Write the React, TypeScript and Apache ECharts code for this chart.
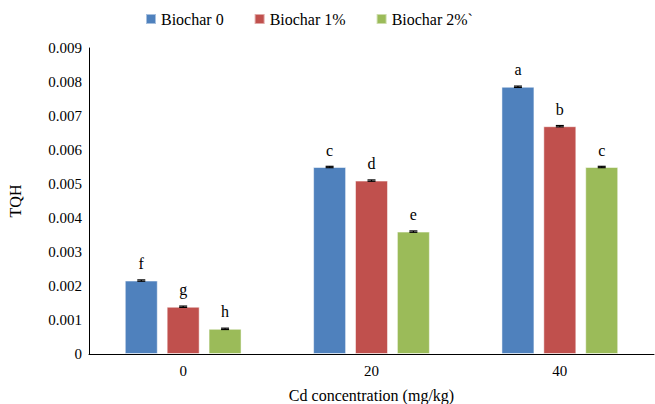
import React, { useEffect, useRef } from "react";
import * as echarts from "echarts";

const categories = ["0", "20", "40"];
const seriesNames = ["Biochar 0", "Biochar 1%", "Biochar 2%`"];
const biochar0 = [0.00216, 0.0055, 0.00786];
const biochar1 = [0.00139, 0.0051, 0.0067];
const biochar2 = [0.00074, 0.0036, 0.0055];
const err0 = [0.00002, 0.00002, 0.00002];
const err1 = [0.00002, 0.00002, 0.00002];
const err2 = [0.00002, 0.00002, 0.00002];
const letters0 = ["f", "c", "a"];
const letters1 = ["g", "d", "b"];
const letters2 = ["h", "e", "c"];
const yTicks = ["0", "0.001", "0.002", "0.003", "0.004", "0.005", "0.006", "0.007", "0.008", "0.009"];

const colors = ["#4F81BD", "#C0504D", "#9BBB59"];
const FONT = "'Liberation Serif', 'Times New Roman', serif";

export default function App() {
  const ref = useRef<HTMLDivElement>(null);
  useEffect(() => {
    const chart = echarts.init(ref.current!, null, { renderer: "svg" });
    const values = [biochar0, biochar1, biochar2];
    const errs = [err0, err1, err2];
    const letters = [letters0, letters1, letters2];
    const barGapFrac = 0.27;
    const catGapFrac = 0.38;
    const barSeries = values.map((vals, i) => ({
      name: seriesNames[i],
      type: "bar",
      data: vals,
      barGap: "27%",
      barCategoryGap: "38%",
      itemStyle: { color: colors[i], borderColor: "rgba(255,255,255,0.5)", borderWidth: 1 },
      label: {
        show: true,
        position: "top",
        distance: 9,
        formatter: (p: any) => letters[i][p.dataIndex],
        fontFamily: FONT,
        fontSize: 16,
        fontWeight: "normal",
        color: "#000",
      },
    }));
    const errSeries = values.map((vals, i) => ({
      name: seriesNames[i],
      type: "custom",
      z: 5,
      data: vals.map((v, j) => [j, v, errs[i][j]]),
      renderItem: (params: any, api: any) => {
        const x = api.value(0);
        const v = api.value(1);
        const e = api.value(2);
        const band = api.size([1, 0])[0];
        const groupW = band * (1 - catGapFrac);
        const bw = groupW / (3 + 2 * barGapFrac);
        const off = (i - 1) * bw * (1 + barGapFrac);
        const top = api.coord([x, v + e]);
        const bot = api.coord([x, v - e]);
        const cx = top[0] + off;
        const hw = 4;
        const style = { stroke: "#000", lineWidth: 1.2 };
        return {
          type: "group",
          children: [
            { type: "line", shape: { x1: cx, y1: top[1], x2: cx, y2: bot[1] }, style },
            { type: "line", shape: { x1: cx - hw, y1: top[1], x2: cx + hw, y2: top[1] }, style },
            { type: "line", shape: { x1: cx - hw, y1: bot[1], x2: cx + hw, y2: bot[1] }, style },
          ],
        };
      },
    }));
    chart.setOption({
      animation: false,
      textStyle: { fontFamily: FONT, fontWeight: "normal" },
      grid: { left: 89, right: 1, top: 48, bottom: 50, outerBoundsMode: "none", containLabel: false },
      legend: {
        data: seriesNames,
        top: 6,
        left: 140,
        itemWidth: 10,
        itemHeight: 10,
        itemGap: 30,
        icon: "rect",
        textStyle: { fontFamily: FONT, fontSize: 16, fontWeight: "normal", color: "#000" },
      },
      xAxis: {
        type: "category",
        data: categories,
        name: "Cd concentration (mg/kg)",
        nameLocation: "middle",
        nameGap: 33,
        nameTextStyle: { fontFamily: FONT, fontSize: 16, fontWeight: "normal", color: "#000" },
        axisLine: { lineStyle: { color: "#000", width: 1 } },
        axisTick: { show: false },
        axisLabel: { fontFamily: FONT, fontSize: 15, fontWeight: "normal", color: "#000", margin: 9 },
      },
      yAxis: {
        type: "value",
        min: 0,
        max: 0.009,
        interval: 0.001,
        name: "TQH",
        nameLocation: "middle",
        nameGap: 66,
        nameTextStyle: { fontFamily: FONT, fontSize: 16, fontWeight: "normal", color: "#000" },
        axisLine: { show: true, lineStyle: { color: "#000", width: 1 } },
        axisTick: { show: false },
        splitLine: { show: false },
        axisLabel: {
          fontFamily: FONT,
          fontSize: 15,
          fontWeight: "normal",
          color: "#000",
          margin: 7,
          formatter: (v: number) => yTicks[Math.round(v / 0.001)] ?? String(v),
        },
      },
      series: [...barSeries, ...errSeries],
    });
    return () => chart.dispose();
  }, []);
  return <div ref={ref} style={{ position: "absolute", left: 0, top: 0, width: 655, height: 404 }} />;
}
